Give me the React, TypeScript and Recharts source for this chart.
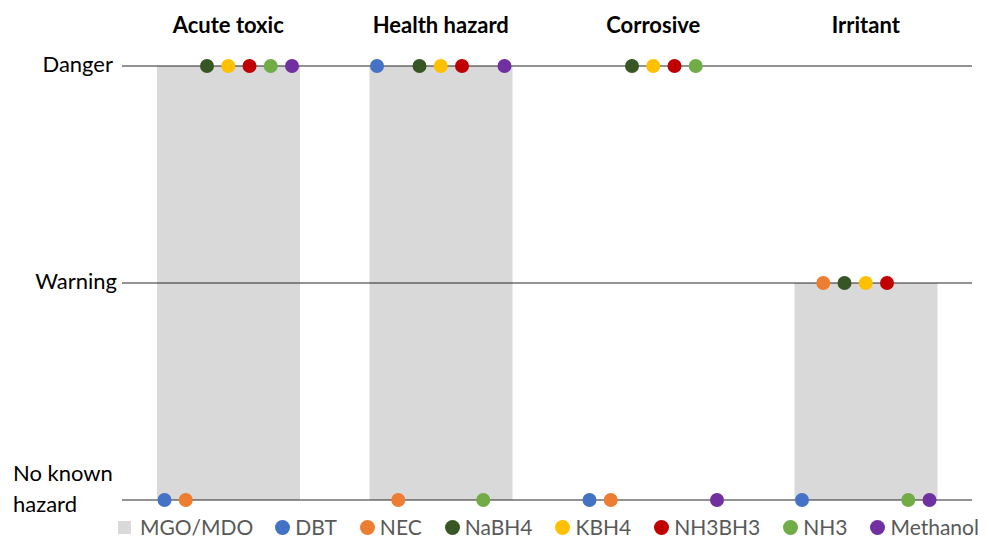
import React from "react";
import { ComposedChart, Bar, Scatter, XAxis, YAxis, ReferenceLine, Legend } from "recharts";

// hazard categories (top labels) and levels (y axis)
const categories = ["Acute toxic", "Health hazard", "Corrosive", "Irritant"];
const levels = [0, 1, 2];
const levelLabels = ["No known\nhazard", "Warning", "Danger"];

// MGO/MDO shown as grey bars
const mgo = [2, 2, 0, 1];

// 0 = no known hazard, 1 = warning, 2 = danger
const dbt = [0, 2, 0, 0];
const nec = [0, 0, 0, 1];
const nabh4 = [2, 2, 2, 1];
const kbh4 = [2, 2, 2, 1];
const nh3bh3 = [2, 2, 2, 1];
const nh3 = [2, 0, 2, 0];
const methanol = [2, 2, 0, 0];

const SERIES = [
  { name: "DBT", values: dbt, color: "#4472C4" },
  { name: "NEC", values: nec, color: "#ED7D31" },
  { name: "NaBH4", values: nabh4, color: "#375623" },
  { name: "KBH4", values: kbh4, color: "#FFC000" },
  { name: "NH3BH3", values: nh3bh3, color: "#C00000" },
  { name: "NH3", values: nh3, color: "#70AD47" },
  { name: "Methanol", values: methanol, color: "#7030A0" },
];

const BAR_COLOR = "#D9D9D9";
const FONT = "Lato, 'Open Sans', sans-serif";
const SLOTS = 10; // slots per category on the dot axis

const barData = categories.map((name, i) => ({ name, MGO: mgo[i] }));

// dot j of category i sits in slot 2 + j, so 7 dots are centred in the band
const dotData = (values: number[], j: number) =>
  values.map((v, i) => ({ x: i * SLOTS + 2 + j, y: v }));

const CatTick = ({ x, y, payload }: any) => (
  <text x={x} y={y} textAnchor="middle" fontFamily={FONT} fontWeight={700} fontSize={22} fill="#000">
    {payload.value}
  </text>
);

const LevelTick = ({ x, y, payload }: any) => {
  const lines = levelLabels[payload.value].split("\n");
  if (lines.length === 1) {
    return (
      <text x={x + (payload.value === 1 ? 4 : 0)} y={y + 6} textAnchor="end" fontFamily={FONT} fontSize={22} fill="#000">
        {lines[0]}
      </text>
    );
  }
  return (
    <text fontFamily={FONT} fontSize={22} fill="#000" textAnchor="start">
      <tspan x={x - 100} y={y - 19}>{lines[0]}</tspan>
      <tspan x={x - 100} y={y + 12}>{lines[1]}</tspan>
    </text>
  );
};

const LegendContent = () => (
  <div
    style={{
      display: "flex",
      justifyContent: "flex-start",
      alignItems: "center",
      height: 28,
      lineHeight: "28px",
      fontFamily: FONT,
      fontSize: 21,
      color: "#595959",
      whiteSpace: "nowrap",
    }}
  >
    <span style={{ display: "inline-flex", alignItems: "center", marginRight: 22 }}>
      <span style={{ width: 13, height: 13, background: BAR_COLOR, marginRight: 9 }} />
      MGO/MDO
    </span>
    {SERIES.map((s) => (
      <span key={s.name} style={{ display: "inline-flex", alignItems: "center", marginRight: 23 }}>
        <span style={{ width: 15, height: 15, borderRadius: "50%", background: s.color, marginRight: 5 }} />
        {s.name}
      </span>
    ))}
  </div>
);

export default function App() {
  return (
    <div style={{ position: "absolute", left: 0, top: 0, width: 989, height: 540, background: "#fff" }}>
      <ComposedChart
        width={989}
        height={540}
        data={barData}
        margin={{ top: 0, right: 17, bottom: 40, left: 0 }}
      >
        <XAxis
          xAxisId="cat"
          dataKey="name"
          orientation="top"
          height={66}
          axisLine={false}
          tickLine={false}
          tickSize={0}
          tickMargin={33}
          tick={<CatTick />}
          interval={0}
        />
        <XAxis xAxisId="num" type="number" dataKey="x" domain={[0, categories.length * SLOTS]} hide />
        <YAxis
          type="number"
          domain={[0, 2]}
          ticks={levels}
          width={122}
          axisLine={false}
          tickLine={false}
          tickSize={0}
          tickMargin={9}
          tick={<LevelTick />}
        />
        <Bar xAxisId="cat" dataKey="MGO" name="MGO/MDO" fill={BAR_COLOR} barSize={143} isAnimationActive={false} />
        {SERIES.map((s, j) => (
          <Scatter
            key={s.name}
            xAxisId="num"
            name={s.name}
            data={dotData(s.values, j)}
            dataKey="y"
            fill={s.color}
            legendType="circle"
            isAnimationActive={false}
            shape={(p: any) => <circle cx={p.cx} cy={p.cy} r={7} fill={s.color} />}
          />
        ))}
        {levels.map((l) => (
          <ReferenceLine key={l} xAxisId="cat" y={l} stroke="#262626" strokeWidth={1} />
        ))}
        <Legend
          layout="horizontal"
          verticalAlign="middle"
          align="center"
          content={<LegendContent />}
          wrapperStyle={{ top: 513, left: 118, width: 871, height: 28 }}
        />
      </ComposedChart>
    </div>
  );
}
